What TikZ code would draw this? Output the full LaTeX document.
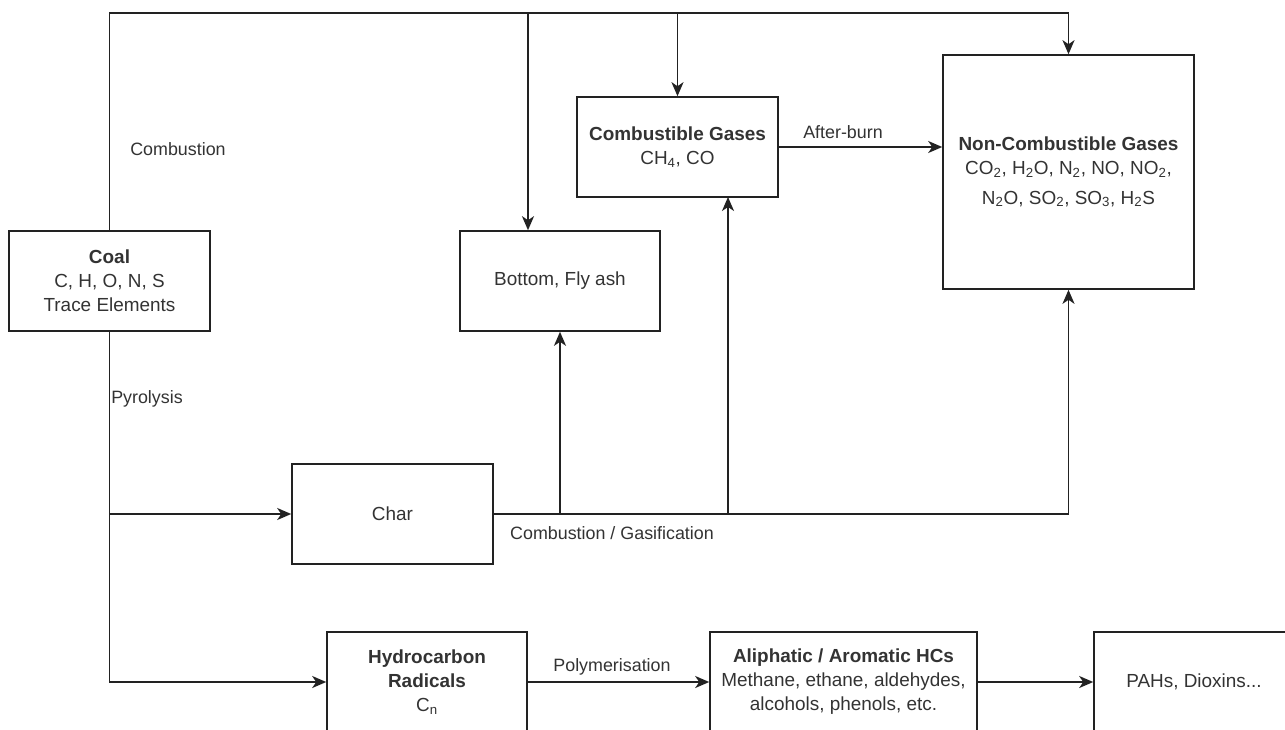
\documentclass[tikz,border=0pt]{standalone}
\usepackage{fontspec}
\setmainfont{Liberation Sans}
\usetikzlibrary{arrows.meta}
\definecolor{ln}{HTML}{222222}
\definecolor{tx}{HTML}{333333}
\tikzset{
  boxnode/.style={draw=ln, line width=1.2pt, align=center, inner sep=0pt,
    text=tx, font=\fontsize{14.2pt}{18pt}\selectfont},
  lbl/.style={text=tx, inner sep=0pt, font=\fontsize{13.4pt}{16pt}\selectfont},
  conn/.style={draw=ln, line width=1.3pt},
  arr/.style={conn, -{Stealth[length=10.5pt, width=9pt, inset=3pt]}}
}
\begin{document}
\begin{tikzpicture}[x=0.75pt, y=-0.75pt]
\useasboundingbox (0,0) rectangle (1285,729);
\clip (0,0) rectangle (1285,729);
\fill[white] (0,0) rectangle (1285,729);

% nodes
\node[boxnode, minimum width=150.75pt, minimum height=75pt] (coal) at (109.5,281)
  {\textbf{Coal}\\C, H, O, N, S\\Trace Elements};
\node[boxnode, minimum width=150pt, minimum height=75pt] (ash) at (560,281)
  {Bottom, Fly ash};
\node[boxnode, minimum width=150.75pt, minimum height=75pt] (comb) at (677.5,147)
  {\textbf{Combustible Gases}\\CH\textsubscript{4}, CO};
\node[boxnode, minimum width=188.25pt, minimum height=175.5pt] (noncomb) at (1068.5,172)
  {\textbf{Non-Combustible Gases}\\CO\textsubscript{2}, H\textsubscript{2}O, N\textsubscript{2}, NO, NO\textsubscript{2},\\[4pt]N\textsubscript{2}O, SO\textsubscript{2}, SO\textsubscript{3}, H\textsubscript{2}S};
\node[boxnode, minimum width=150.75pt, minimum height=75pt] (char) at (392.5,514)
  {Char};
\node[boxnode, minimum width=150pt, minimum height=75pt] (hydro) at (427,682)
  {\textbf{Hydrocarbon}\\\textbf{Radicals}\\C\textsubscript{n}};
\node[boxnode, minimum width=200.25pt, minimum height=75pt] (aliph) at (843.5,682)
  {\textbf{Aliphatic / Aromatic HCs}\\Methane, ethane, aldehydes,\\alcohols, phenols, etc.};
\node[boxnode, minimum width=150pt, minimum height=75pt] (pahs) at (1194,682)
  {PAHs, Dioxins...};

% helper coordinates
\coordinate (topy) at (0,13);
\coordinate (ashdrop) at (528,13);
\coordinate (combup) at (728,197);

% connectors
\draw[arr] (coal.north) -- (coal.north |- topy) -| (noncomb.north);
\draw[arr] (ashdrop) -- (ashdrop |- ash.north);
\draw[arr] (comb.north |- topy) -- (comb.north);
\draw[arr] (comb.east) -- (comb.east -| noncomb.west);
\draw[arr] (coal.south) |- (hydro.west);
\draw[arr] (coal.south |- char.west) -- (char.west);
\draw[arr] (char.east) -| (noncomb.south);
\draw[arr] (char.east -| ash.south) -- (ash.south);
\draw[arr] (char.east -| combup) -- (combup);
\draw[arr] (hydro.east) -- (aliph.west);
\draw[arr] (aliph.east) -- (pahs.west);

% labels
\node[lbl] (lcomb) at (178,149) {Combustion};
\node[lbl] (lpyro) at (147,399) {Pyrolysis};
\node[lbl] (lgas) at (612,533) {Combustion / Gasification};
\node[lbl] (lafter) at (843,132) {After-burn};
\node[lbl] (lpoly) at (612,667) {Polymerisation};
\end{tikzpicture}
\end{document}
